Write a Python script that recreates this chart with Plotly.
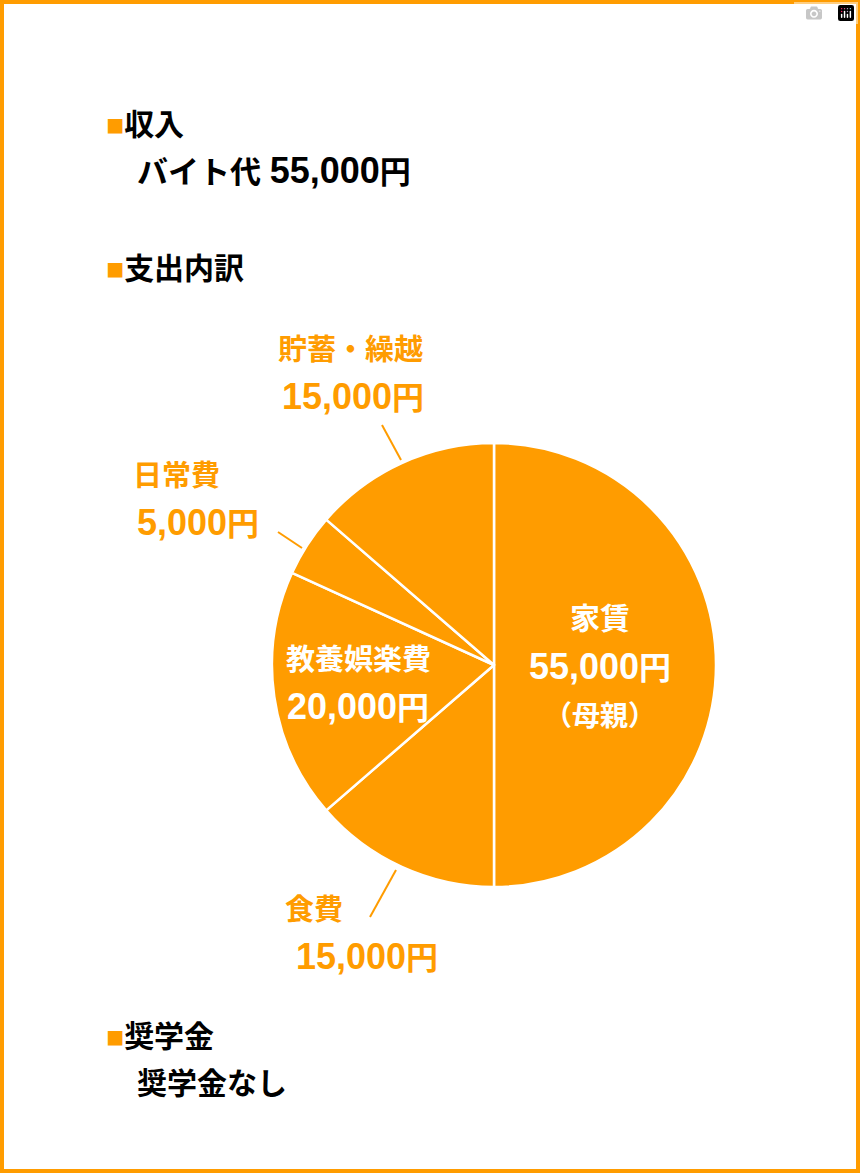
import plotly.graph_objects as go

labels = ["家賃", "食費", "教養娯楽費", "日常費", "貯蓄・繰越"]
values = [55000, 15000, 20000, 5000, 15000]
ORANGE = "#FF9C00"
W, H = 860, 1173
FONT = "Liberation Sans, Noto Sans CJK JP"

def px(x, y):
    return x / W, 1 - y / H

fig = go.Figure(go.Pie(
    labels=labels, values=values, sort=False, direction="clockwise", rotation=0,
    marker=dict(colors=[ORANGE] * 5, line=dict(color="white", width=2.5)),
    textinfo="none", hoverinfo="label+value", showlegend=False,
    domain=dict(x=[272 / W, 716 / W], y=[1 - 887 / H, 1 - 443 / H]),
))

def note(x, y, text, color="black", size=30, align="left", anchor="left"):
    ax, ay = px(x, y)
    fig.add_annotation(x=ax, y=ay, xref="paper", yref="paper", text=text, showarrow=False,
                       xanchor=anchor, yanchor="middle", align=align,
                       font=dict(family=FONT, size=size, color=color, weight="bold"))

# headings
for y, t in [(125, "収入"), (268, "支出内訳"), (1036, "奨学金")]:
    note(104, y, f"<span style='color:{ORANGE}'>■</span>{t}")
note(135, 171, "バイト代 <span style='font-size:36px'>55,000</span>円", size=31)
note(135, 1083, "奨学金なし", size=30)

# slice labels
note(600, 618, "家賃", "white", 30, "center", "center")
note(600, 666, "<span style='font-size:36px'>55,000</span>円", "white", 32, "center", "center")
note(600, 716, "（母親）", "white", 28, "center", "center")
note(358, 660, "教養娯楽費", "white", 29, "center", "center")
note(358, 706, "<span style='font-size:36px'>20,000</span>円", "white", 32, "center", "center")
note(350, 350, "貯蓄・繰越", ORANGE, 29, "center", "center")
note(353, 396, "<span style='font-size:36px'>15,000</span>円", ORANGE, 32, "center", "center")
note(176, 476, "日常費", ORANGE, 29, "center", "center")
note(198, 522, "<span style='font-size:36px'>5,000</span>円", ORANGE, 32, "center", "center")
note(314, 910, "食費", ORANGE, 29, "center", "center")
note(367, 956, "<span style='font-size:36px'>15,000</span>円", ORANGE, 32, "center", "center")

# leader lines
for x0, y0, x1, y1 in [(382, 425, 401, 460), (278, 532, 302, 548), (370, 917, 396, 870)]:
    a, b = px(x0, y0)
    c, d = px(x1, y1)
    fig.add_shape(type="line", xref="paper", yref="paper", x0=a, y0=b, x1=c, y1=d,
                  line=dict(color=ORANGE, width=2))

# frame
fig.add_shape(type="rect", xref="paper", yref="paper", x0=2 / W, y0=2 / H, x1=1 - 2 / W, y1=1 - 2 / H,
              line=dict(color=ORANGE, width=4))

fig.update_layout(width=W, height=H, margin=dict(l=0, r=0, t=0, b=0),
                  paper_bgcolor="white", plot_bgcolor="white")
fig.write_html("out.html", post_script="document.body.style.margin='0';document.body.style.overflow='hidden';")
